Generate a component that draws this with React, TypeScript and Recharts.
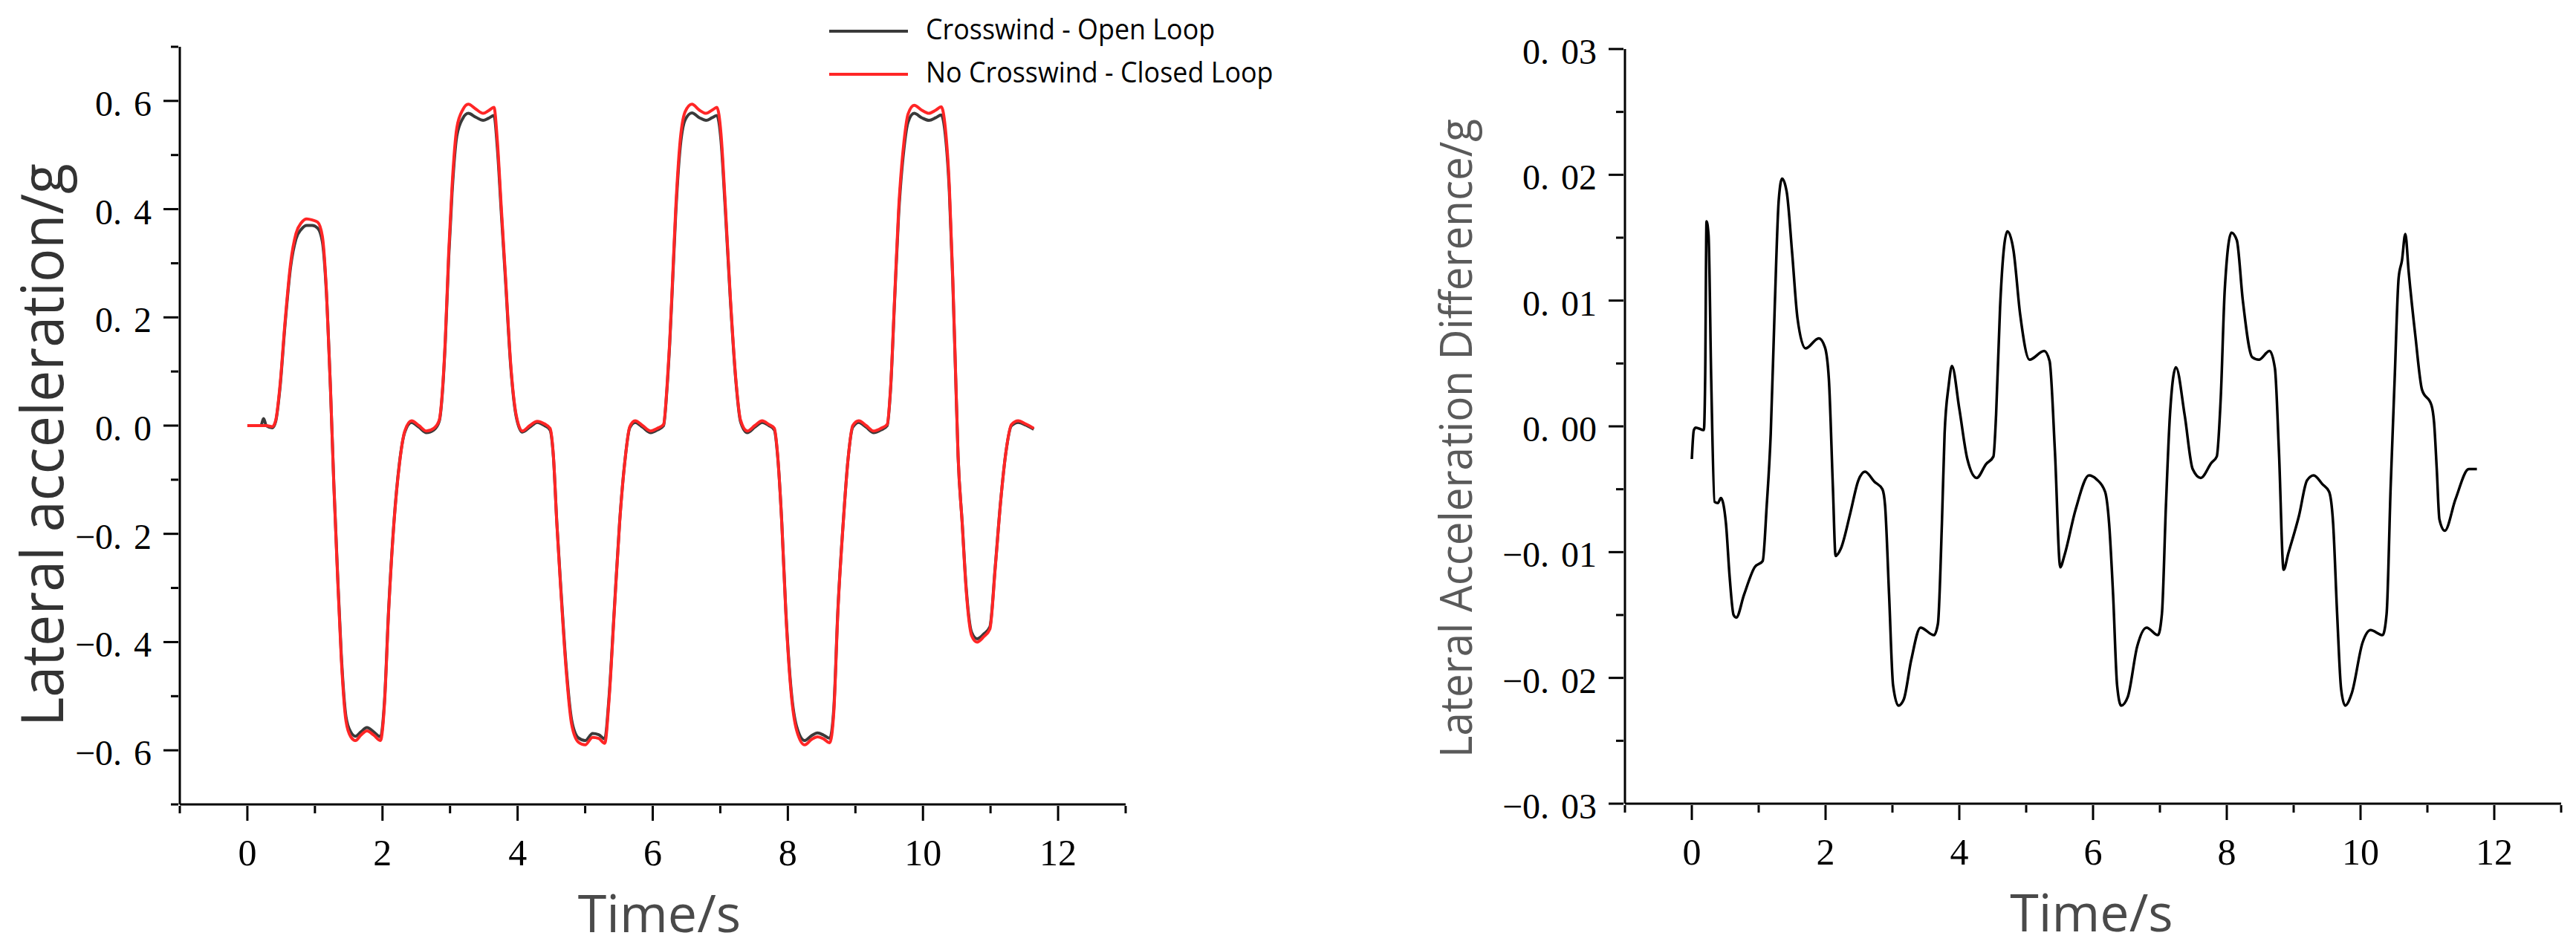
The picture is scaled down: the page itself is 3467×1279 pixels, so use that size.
import React from "react";
import { LineChart, Line, XAxis, YAxis, Legend } from "recharts";

// time axis (s) for the two lateral acceleration runs
const TIME_L = [
  0, 0.2, 0.24, 0.28, 0.37, 0.42, 0.48, 0.56, 0.64, 0.72,
  0.8, 0.88, 0.96, 1.04, 1.11, 1.17, 1.23, 1.28, 1.33, 1.39,
  1.46, 1.53, 1.6, 1.68, 1.77, 1.87, 1.97, 2.03, 2.09, 2.17,
  2.25, 2.33, 2.43, 2.54, 2.65, 2.76, 2.84, 2.89, 2.93, 2.98,
  3.03, 3.1, 3.19, 3.27, 3.38, 3.49, 3.57, 3.65, 3.7, 3.76,
  3.82, 3.9, 3.98, 4.07, 4.18, 4.29, 4.4, 4.48, 4.53, 4.58,
  4.64, 4.72, 4.8, 4.9, 5.0, 5.11, 5.2, 5.29, 5.35, 5.43,
  5.51, 5.59, 5.66, 5.74, 5.85, 5.97, 6.07, 6.16, 6.21, 6.25,
  6.29, 6.34, 6.4, 6.48, 6.58, 6.69, 6.79, 6.88, 6.95, 7.01,
  7.07, 7.15, 7.23, 7.3, 7.4, 7.51, 7.62, 7.72, 7.8, 7.85,
  7.91, 7.97, 8.05, 8.13, 8.25, 8.35, 8.44, 8.53, 8.62, 8.68,
  8.74, 8.82, 8.89, 8.96, 9.05, 9.16, 9.27, 9.38, 9.47, 9.52,
  9.58, 9.64, 9.72, 9.78, 9.87, 9.98, 10.09, 10.19, 10.27, 10.33,
  10.39, 10.44, 10.48, 10.52, 10.58, 10.64, 10.72, 10.8, 10.9, 10.99,
  11.07, 11.15, 11.23, 11.31, 11.41, 11.52, 11.64,
];

// Crosswind - Open Loop (g)
const OPEN_LOOP = [
  0, 0, 0.013, 0, -0.004, 0.008, 0.066, 0.19, 0.293, 0.345,
  0.363, 0.37, 0.37, 0.365, 0.34, 0.245, 0.068, -0.108, -0.258, -0.423,
  -0.538, -0.566, -0.574, -0.566, -0.558, -0.566, -0.575, -0.508, -0.342, -0.178,
  -0.07, -0.012, 0.006, -0.003, -0.013, -0.008, 0.008, 0.066, 0.155, 0.31,
  0.43, 0.535, 0.568, 0.577, 0.57, 0.564, 0.568, 0.573, 0.513, 0.39,
  0.27, 0.106, 0.016, -0.012, -0.003, 0.006, 0.0, -0.008, -0.058, -0.178,
  -0.3, -0.447, -0.544, -0.577, -0.582, -0.569, -0.571, -0.579, -0.507, -0.342,
  -0.178, -0.063, -0.004, 0.006, -0.003, -0.013, -0.008, 0.0, 0.066, 0.148,
  0.253, 0.39, 0.505, 0.565, 0.578, 0.569, 0.564, 0.569, 0.573, 0.527,
  0.408, 0.23, 0.083, 0.007, -0.013, -0.003, 0.006, 0.0, -0.008, -0.058,
  -0.178, -0.342, -0.49, -0.556, -0.582, -0.573, -0.568, -0.572, -0.578, -0.523,
  -0.342, -0.178, -0.063, -0.003, 0.006, -0.003, -0.013, -0.008, 0.0, 0.066,
  0.23, 0.39, 0.513, 0.561, 0.577, 0.569, 0.564, 0.569, 0.574, 0.538,
  0.433, 0.27, 0.106, -0.058, -0.178, -0.3, -0.382, -0.394, -0.385, -0.372,
  -0.26, -0.139, -0.047, 0.0, 0.006, 0.001, -0.007,
];

// No Crosswind - Closed Loop (g)
const CLOSED_LOOP = [
  0, 0, 0, 0, -0.002, 0.01, 0.07, 0.195, 0.3, 0.355,
  0.375, 0.382, 0.38, 0.376, 0.35, 0.25, 0.07, -0.11, -0.263, -0.43,
  -0.546, -0.575, -0.582, -0.572, -0.564, -0.572, -0.582, -0.513, -0.346, -0.18,
  -0.072, -0.01, 0.009, 0.0, -0.01, -0.005, 0.01, 0.07, 0.16, 0.32,
  0.443, 0.55, 0.584, 0.594, 0.585, 0.577, 0.582, 0.588, 0.526, 0.4,
  0.277, 0.11, 0.019, -0.01, 0.0, 0.008, 0.003, -0.005, -0.056, -0.18,
  -0.305, -0.454, -0.552, -0.585, -0.59, -0.576, -0.578, -0.587, -0.513, -0.346,
  -0.18, -0.064, -0.002, 0.009, 0.0, -0.01, -0.005, 0.002, 0.069, 0.152,
  0.26, 0.4, 0.518, 0.58, 0.594, 0.583, 0.577, 0.583, 0.588, 0.54,
  0.418, 0.235, 0.086, 0.01, -0.01, 0.0, 0.009, 0.002, -0.005, -0.056,
  -0.18, -0.346, -0.496, -0.563, -0.59, -0.58, -0.575, -0.579, -0.586, -0.53,
  -0.346, -0.18, -0.064, 0.0, 0.009, 0.0, -0.01, -0.005, 0.002, 0.069,
  0.235, 0.4, 0.526, 0.576, 0.592, 0.583, 0.577, 0.583, 0.589, 0.551,
  0.443, 0.277, 0.11, -0.056, -0.18, -0.305, -0.388, -0.4, -0.39, -0.376,
  -0.263, -0.14, -0.047, 0.002, 0.009, 0.003, -0.005,
];

// time axis (s) for the difference curve
const TIME_R = [
  0, 0.03, 0.06, 0.18, 0.2, 0.22, 0.25, 0.29, 0.34, 0.39,
  0.435, 0.51, 0.566, 0.625, 0.665, 0.78, 0.94, 1.06, 1.12, 1.18,
  1.24, 1.3, 1.35, 1.42, 1.5, 1.58, 1.7, 1.9, 1.99, 2.05,
  2.11, 2.15, 2.23, 2.37, 2.49, 2.59, 2.73, 2.85, 2.89, 2.95,
  3.01, 3.09, 3.17, 3.28, 3.42, 3.62, 3.68, 3.74, 3.78, 3.84,
  3.89, 4.0, 4.12, 4.26, 4.4, 4.51, 4.55, 4.61, 4.67, 4.72,
  4.81, 4.91, 5.05, 5.27, 5.35, 5.43, 5.51, 5.57, 5.74, 5.94,
  6.05, 6.18, 6.24, 6.3, 6.36, 6.42, 6.52, 6.66, 6.8, 6.97,
  7.03, 7.09, 7.15, 7.24, 7.37, 7.49, 7.61, 7.77, 7.85, 7.91,
  7.97, 8.07, 8.15, 8.24, 8.38, 8.48, 8.64, 8.72, 8.78, 8.85,
  8.92, 9.08, 9.2, 9.3, 9.43, 9.53, 9.59, 9.65, 9.71, 9.77,
  9.87, 10.03, 10.15, 10.33, 10.39, 10.45, 10.51, 10.57, 10.62, 10.67,
  10.72, 10.82, 10.92, 11.06, 11.1, 11.14, 11.18, 11.26, 11.42, 11.62,
  11.74,
];

// Lateral Acceleration Difference (g)
const DIFF = [
  -0.0026, -0.0003, -0.0001, -0.0003, 0.004, 0.0163, 0.0152, 0.0037, -0.006, -0.0061,
  -0.0057, -0.0077, -0.012, -0.015, -0.0152, -0.0134, -0.0112, -0.0107, -0.0063, -0.0006,
  0.0095, 0.018, 0.0197, 0.0186, 0.0138, 0.0086, 0.0062, 0.007, 0.0063, 0.0037,
  -0.0049, -0.0103, -0.0097, -0.0069, -0.0043, -0.0036, -0.0044, -0.005, -0.0063, -0.0134,
  -0.0206, -0.0222, -0.0217, -0.0186, -0.016, -0.0166, -0.0157, -0.0077, -0.0006, 0.0032,
  0.0048, 0.0014, -0.0026, -0.0041, -0.003, -0.0024, 0.0009, 0.0095, 0.0143, 0.0155,
  0.014, 0.0089, 0.0053, 0.006, 0.0052, -0.002, -0.0112, -0.0103, -0.0066, -0.0039,
  -0.0042, -0.0052, -0.0077, -0.0134, -0.0206, -0.0222, -0.0215, -0.0175, -0.016, -0.0166,
  -0.0149, -0.0063, 0.0009, 0.0047, 0.0009, -0.0034, -0.0041, -0.0029, -0.0024, 0.0023,
  0.0109, 0.0154, 0.0148, 0.01, 0.0055, 0.0053, 0.006, 0.0046, -0.002, -0.0114,
  -0.0101, -0.0071, -0.0043, -0.0039, -0.0046, -0.0052, -0.0077, -0.0149, -0.0209, -0.0222,
  -0.0212, -0.0172, -0.0162, -0.0166, -0.0149, -0.0049, 0.0037, 0.0118, 0.0132, 0.0153,
  0.0123, 0.0072, 0.0029, 0.0017, 0.0003, -0.0034, -0.0074, -0.0083, -0.0058, -0.0034,
  -0.0034,
];

const X_TICKS = [-1, 0, 1, 2, 3, 4, 5, 6, 7, 8, 9, 10, 11, 12, 13];
const Y_TICKS_L = [-0.7, -0.6, -0.5, -0.4, -0.3, -0.2, -0.1, 0, 0.1, 0.2, 0.3, 0.4, 0.5, 0.6, 0.7];
const Y_TICKS_R = [-0.03, -0.025, -0.02, -0.015, -0.01, -0.005, 0, 0.005, 0.01, 0.015, 0.02, 0.025, 0.03];

const SERIF = '"Liberation Serif", "Times New Roman", serif';
const SANS = '"Open Sans", "Noto Sans", sans-serif';

const leftRows = TIME_L.map((t, i) => ({ t, open: OPEN_LOOP[i], closed: CLOSED_LOOP[i] }));
const rightRows = TIME_R.map((t, i) => ({ t, diff: DIFF[i] }));

// "0.6" -> ["0.", "6"], minus as a real minus sign
function splitLabel(v: number, digits: number) {
  const s = v.toFixed(digits).replace("-", "\u2212");
  const [a, b] = s.split(".");
  return [a + ".", b];
}

const XTick = ({ x, y, payload }: any) => {
  const v = payload.value;
  const major = v >= 0 && v <= 12 && v % 2 === 0;
  return (
    <g>
      <line x1={x} x2={x} y1={y} y2={y + (major ? 20 : 10)} stroke="#000" strokeWidth={3} />
      {major && (
        <text x={x} y={y + 80} textAnchor="middle" fontFamily={SERIF} fontSize={50} fill="#000">
          {v}
        </text>
      )}
    </g>
  );
};

const makeYTick = (isMajor: (v: number) => boolean, digits: number) => ({ x, y, payload }: any) => {
  const major = isMajor(payload.value);
  const [head, tail] = splitLabel(payload.value, digits);
  return (
    <g>
      <line x1={x - (major ? 20 : 10)} x2={x} y1={y} y2={y} stroke="#000" strokeWidth={3} />
      {major && (
        <text x={x - 36} y={y + 20} textAnchor="end" fontFamily={SERIF} fontSize={48} fill="#000">
          {head}
          <tspan dx={16}>{tail}</tspan>
        </text>
      )}
    </g>
  );
};

const YTickLeft = makeYTick((v) => Math.abs(Math.round(v * 10)) % 2 === 0, 1);
const YTickRight = makeYTick((v) => Math.abs(Math.round(v * 1000)) % 10 === 0, 2);

const timeLabel = (shift: number) => ({ viewBox }: any) => (
  <text
    x={viewBox.x + viewBox.width / 2 + shift}
    y={viewBox.y + 172}
    textAnchor="middle"
    fontFamily={SANS}
    fontSize={70}
    fill="#4a4a4a"
  >
    Time/s
  </text>
);

const yTitle = (text: string, dx: number, dy: number, size: number, len: number, color: string) =>
  ({ viewBox }: any) => (
    <text
      transform={`translate(${viewBox.x + dx}, ${viewBox.y + viewBox.height / 2 + dy}) rotate(-90)`}
      textAnchor="middle"
      fontFamily={SANS}
      fontSize={size}
      fill={color}
      textLength={len}
      lengthAdjust="spacingAndGlyphs"
    >
      {text}
    </text>
  );

const renderLegend = ({ payload }: any) => (
  <svg width={650} height={130}>
    {(payload || []).map((p: any, i: number) => {
      const y = 42 + i * 58;
      return (
        <g key={p.value}>
          <line x1={16} x2={122} y1={y} y2={y} stroke={p.color} strokeWidth={4} />
          <text
            transform={`translate(146, ${y + 11}) scale(0.92, 1)`}
            fontFamily={SANS}
            fontSize={39}
            fill="#000"
          >
            {p.value}
          </text>
        </g>
      );
    })}
  </svg>
);

const axisLine = { stroke: "#000", strokeWidth: 3 };

export default function App() {
  return (
    <div style={{ position: "absolute", left: 0, top: 0, width: 3467, height: 1279, background: "#fff" }}>
      <div style={{ position: "absolute", left: 0, top: 0 }}>
        <LineChart width={1750} height={1279} data={leftRows} margin={{ top: 63, right: 235, bottom: 0, left: 0 }}>
          <XAxis
            dataKey="t"
            type="number"
            domain={[-1, 13]}
            ticks={X_TICKS}
            interval={0}
            height={196}
            tickSize={0}
            tickLine={false}
            axisLine={axisLine}
            tick={XTick}
            label={{ content: timeLabel(9) }}
          />
          <YAxis
            type="number"
            domain={[-0.7, 0.7]}
            ticks={Y_TICKS_L}
            interval={0}
            width={242}
            tickSize={0}
            tickLine={false}
            axisLine={axisLine}
            tick={YTickLeft}
            label={{ content: yTitle("Lateral acceleration/g", 85, 26, 78, 758, "#333") }}
          />
          <Legend
            layout="vertical"
            align="center"
            verticalAlign="middle"
            content={renderLegend}
            wrapperStyle={{ left: 1100, top: 0, width: 650, height: 130 }}
          />
          <Line
            name="Crosswind - Open Loop"
            dataKey="open"
            type="monotone"
            stroke="#3a3a3a"
            strokeWidth={4}
            dot={false}
            isAnimationActive={false}
          />
          <Line
            name="No Crosswind - Closed Loop"
            dataKey="closed"
            type="monotone"
            stroke="#ff2626"
            strokeWidth={4}
            dot={false}
            isAnimationActive={false}
          />
        </LineChart>
      </div>

      <div style={{ position: "absolute", left: 1750, top: 0 }}>
        <LineChart width={1717} height={1279} data={rightRows} margin={{ top: 66, right: 20, bottom: 0, left: 0 }}>
          <XAxis
            dataKey="t"
            type="number"
            domain={[-1, 13]}
            ticks={X_TICKS}
            interval={0}
            height={197}
            tickSize={0}
            tickLine={false}
            axisLine={axisLine}
            tick={XTick}
            label={{ content: timeLabel(-2) }}
          />
          <YAxis
            type="number"
            domain={[-0.03, 0.03]}
            ticks={Y_TICKS_R}
            interval={0}
            width={437}
            tickSize={0}
            tickLine={false}
            axisLine={axisLine}
            tick={YTickRight}
            label={{ content: yTitle("Lateral Acceleration Difference/g", 231, 16, 60, 860, "#5a5a5a") }}
          />
          <Line
            name="Lateral Acceleration Difference"
            dataKey="diff"
            type="monotone"
            stroke="#000"
            strokeWidth={3.5}
            dot={false}
            isAnimationActive={false}
          />
        </LineChart>
      </div>
    </div>
  );
}
